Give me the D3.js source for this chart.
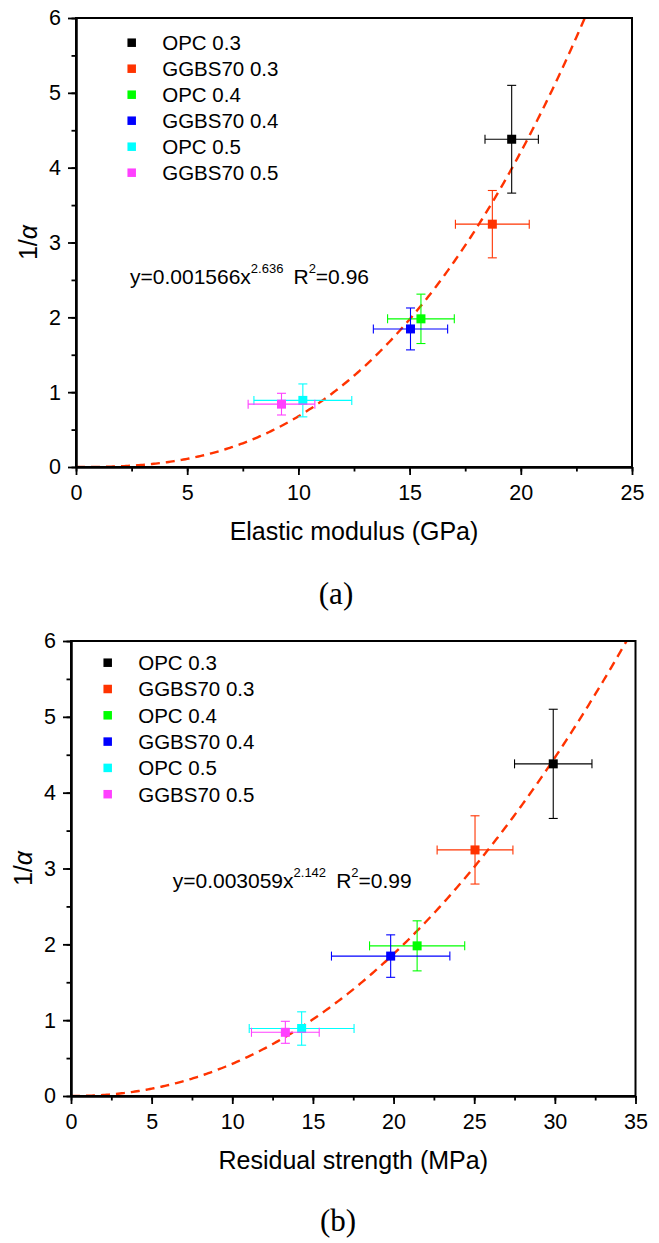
<!DOCTYPE html>
<html>
<head>
<meta charset="utf-8">
<script src="https://cdn.jsdelivr.net/npm/d3@7"></script>
<style>
  html, body { margin: 0; padding: 0; background: #fff; }
  svg { display: block; }
  text { font-family: "Liberation Sans", Arial, sans-serif; fill: #000; }
</style>
</head>
<body>
<svg id="chart" width="659" height="1243"></svg>
<script>
// ---------------- data ----------------
const categories = ["OPC 0.3", "GGBS70 0.3", "OPC 0.4", "GGBS70 0.4", "OPC 0.5", "GGBS70 0.5"];
const colors = ["#000000", "#FF3300", "#00FF00", "#0000FF", "#00FFFF", "#FF40FF"];

const invAlpha = [4.38, 3.245, 1.98, 1.845, 0.89, 0.84];
const invAlphaErr = [0.72, 0.45, 0.33, 0.28, 0.22, 0.145];

const elasticModulus = [19.59, 18.72, 15.51, 15.04, 10.2, 9.24];
const elasticModulusErr = [1.2, 1.66, 1.5, 1.67, 2.2, 1.5];

const residualStrength = [29.9, 25.05, 21.46, 19.82, 14.3, 13.29];
const residualStrengthErr = [2.4, 2.35, 2.95, 3.67, 3.25, 2.1];

const fitA = { a: 0.001566, b: 2.636, aText: "0.001566", bText: "2.636", r2: "0.96" };
const fitB = { a: 0.003059, b: 2.142, aText: "0.003059", bText: "2.142", r2: "0.99" };

const xTicksA = [0, 5, 10, 15, 20, 25];
const xTicksB = [0, 5, 10, 15, 20, 25, 30, 35];
const yTicks = [0, 1, 2, 3, 4, 5, 6];

// ---------------- drawing ----------------
const svg = d3.select("#chart");

function panel(cfg) {
  const g = svg.append("g");
  const x = d3.scaleLinear().domain(cfg.xDomain).range([cfg.left, cfg.right]);
  const y = d3.scaleLinear().domain([0, 6]).range([cfg.bottom, cfg.top]);
  const clipId = "clip" + cfg.id;
  svg.append("clipPath").attr("id", clipId).append("rect")
    .attr("x", cfg.left).attr("y", cfg.top)
    .attr("width", cfg.right - cfg.left).attr("height", cfg.bottom - cfg.top);

  // fitted curve
  const xmax = cfg.xDomain[1];
  const n = 300;
  const pts = d3.range(n + 1).map(i => {
    const xv = xmax * i / n;
    return [xv, cfg.fit.a * Math.pow(xv, cfg.fit.b)];
  }).filter(p => p[1] <= 6.3);
  g.append("path")
    .attr("clip-path", `url(#${clipId})`)
    .attr("d", d3.line().x(d => x(d[0])).y(d => y(d[1]))(pts))
    .attr("fill", "none").attr("stroke", "#FF3300")
    .attr("stroke-width", 2.4).attr("stroke-dasharray", "9,6");

  // points with error bars
  const cap = 4.5;
  categories.forEach((c, i) => {
    const cx = x(cfg.xs[i]), cy = y(invAlpha[i]);
    const x0 = x(cfg.xs[i] - cfg.xe[i]), x1 = x(cfg.xs[i] + cfg.xe[i]);
    const y0 = y(invAlpha[i] - invAlphaErr[i]), y1 = y(invAlpha[i] + invAlphaErr[i]);
    const eg = g.append("g").attr("stroke", colors[i]).attr("stroke-width", 1.1).attr("fill", "none");
    eg.append("line").attr("x1", x0).attr("x2", x1).attr("y1", cy).attr("y2", cy);
    eg.append("line").attr("x1", x0).attr("x2", x0).attr("y1", cy - cap).attr("y2", cy + cap);
    eg.append("line").attr("x1", x1).attr("x2", x1).attr("y1", cy - cap).attr("y2", cy + cap);
    eg.append("line").attr("x1", cx).attr("x2", cx).attr("y1", y0).attr("y2", y1);
    eg.append("line").attr("x1", cx - cap).attr("x2", cx + cap).attr("y1", y0).attr("y2", y0);
    eg.append("line").attr("x1", cx - cap).attr("x2", cx + cap).attr("y1", y1).attr("y2", y1);
    g.append("rect").attr("x", cx - 4.5).attr("y", cy - 4.5).attr("width", 9).attr("height", 9)
      .attr("fill", colors[i]);
  });

  // axes
  const xMinor = d3.range(cfg.xDomain[0], cfg.xDomain[1] + 0.01, 2.5);
  const yMinor = d3.range(0, 6.01, 0.5);
  const axB = g.append("g").attr("transform", `translate(0,${cfg.bottom})`);
  axB.call(d3.axisBottom(x).tickValues(xMinor).tickSize(4.5).tickFormat("").tickSizeOuter(0));
  const axB2 = g.append("g").attr("transform", `translate(0,${cfg.bottom})`);
  axB2.call(d3.axisBottom(x).tickValues(cfg.xTicks).tickSize(8).tickPadding(10).tickSizeOuter(0).tickFormat(d3.format("d")));
  const axL = g.append("g").attr("transform", `translate(${cfg.left},0)`);
  axL.call(d3.axisLeft(y).tickValues(yMinor).tickSize(4.5).tickFormat("").tickSizeOuter(0));
  const axL2 = g.append("g").attr("transform", `translate(${cfg.left},0)`);
  axL2.call(d3.axisLeft(y).tickValues(yTicks).tickSize(8).tickPadding(7).tickSizeOuter(0).tickFormat(d3.format("d")));
  [axB, axB2, axL, axL2].forEach(a => {
    a.selectAll("line").attr("stroke", "#000").attr("stroke-width", 1.8);
    a.selectAll("path").attr("stroke", "#000").attr("stroke-width", 2);
    a.selectAll("text").style("font-family", '"Liberation Sans", Arial, sans-serif')
      .style("font-size", "21.5px").attr("fill", "#000");
  });
  // frame
  g.append("rect").attr("x", cfg.left).attr("y", cfg.top)
    .attr("width", cfg.right - cfg.left).attr("height", cfg.bottom - cfg.top)
    .attr("fill", "none").attr("stroke", "#000").attr("stroke-width", 2);

  // axis titles
  g.append("text").attr("x", (cfg.left + cfg.right) / 2).attr("y", cfg.bottom + 73)
    .attr("text-anchor", "middle").style("font-size", "25px").text(cfg.xTitle);
  const yl = g.append("text")
    .attr("transform", `translate(${cfg.left - 39},${(cfg.top + cfg.bottom) / 2}) rotate(-90)`)
    .attr("text-anchor", "middle").style("font-size", "25px");
  yl.append("tspan").text("1/");
  yl.append("tspan").style("font-style", "italic").text("α");

  // legend
  categories.forEach((c, i) => {
    const ly = cfg.legY + i * cfg.legStep;
    g.append("rect").attr("x", cfg.legX - 4.25).attr("y", ly - 4.25)
      .attr("width", 8.5).attr("height", 8.5).attr("fill", colors[i]);
    g.append("text").attr("x", cfg.legX + 30.5).attr("y", ly + 7.3)
      .style("font-size", "20.5px").text(c);
  });

  // equation
  const eq = g.append("text").attr("x", cfg.eqX).attr("y", cfg.eqY).style("font-size", "21px");
  eq.append("tspan").text("y=" + cfg.fit.aText + "x");
  eq.append("tspan").attr("dy", -11).style("font-size", "13px").text(cfg.fit.bText);
  eq.append("tspan").attr("dy", 11).text("\u2009 R");
  eq.append("tspan").attr("dy", -11).style("font-size", "13px").text("2");
  eq.append("tspan").attr("dy", 11).text("=" + cfg.fit.r2);

  // panel label
  svg.append("text").attr("x", cfg.labX).attr("y", cfg.labY).attr("text-anchor", "middle")
    .style("font-family", '"Liberation Serif", "Times New Roman", serif')
    .style("font-size", "31px").text(cfg.label);
}

panel({
  id: "A", left: 76, right: 632, top: 18, bottom: 467,
  xDomain: [0, 25], xTicks: xTicksA, xs: elasticModulus, xe: elasticModulusErr,
  fit: fitA, xTitle: "Elastic modulus (GPa)",
  legX: 131.7, legY: 42.7, legStep: 26,
  eqX: 130, eqY: 284, label: "(a)", labX: 336, labY: 604
});

panel({
  id: "B", left: 71, right: 635.5, top: 641, bottom: 1096,
  xDomain: [0, 35], xTicks: xTicksB, xs: residualStrength, xe: residualStrengthErr,
  fit: fitB, xTitle: "Residual strength (MPa)",
  legX: 107.7, legY: 662.7, legStep: 26.3,
  eqX: 172.7, eqY: 888, label: "(b)", labX: 338, labY: 1231
});
</script>
</body>
</html>
